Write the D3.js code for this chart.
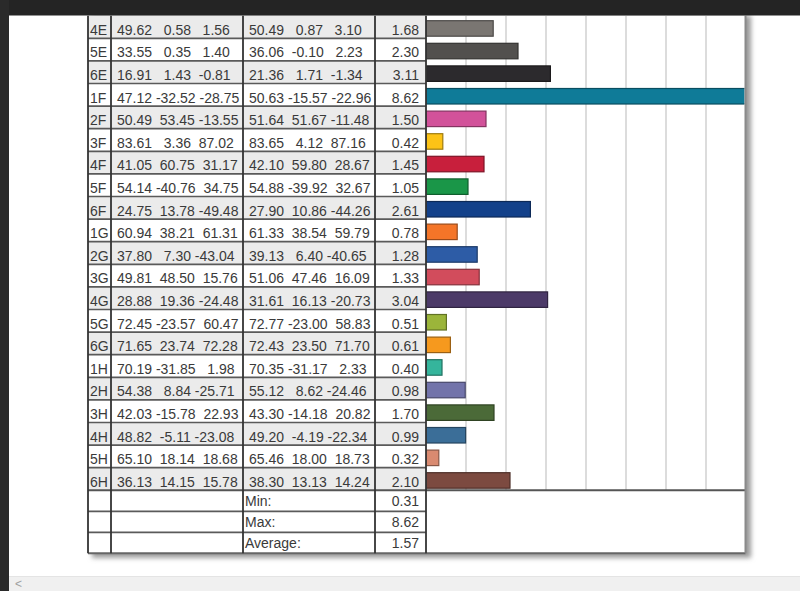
<!DOCTYPE html>
<html><head><meta charset="utf-8">
<script src="https://cdn.jsdelivr.net/npm/d3@7"></script>
<style>
html,body{margin:0;padding:0;background:#fff;}
svg{display:block;}
text{font-family:"Liberation Sans",Arial,sans-serif;font-size:14px;fill:#3a3a3a;white-space:pre;}
</style></head>
<body>
<svg id="c" width="800" height="591"></svg>
<script>
const patches = ["4E","5E","6E","1F","2F","3F","4F","5F","6F","1G","2G","3G","4G","5G","6G","1H","2H","3H","4H","5H","6H"];
const refL = [49.62,33.55,16.91,47.12,50.49,83.61,41.05,54.14,24.75,60.94,37.80,49.81,28.88,72.45,71.65,70.19,54.38,42.03,48.82,65.10,36.13];
const refA = [0.58,0.35,1.43,-32.52,53.45,3.36,60.75,-40.76,13.78,38.21,7.30,48.50,19.36,-23.57,23.74,-31.85,8.84,-15.78,-5.11,18.14,14.15];
const refB = [1.56,1.40,-0.81,-28.75,-13.55,87.02,31.17,34.75,-49.48,61.31,-43.04,15.76,-24.48,60.47,72.28,1.98,-25.71,22.93,-23.08,18.68,15.78];
const measL = [50.49,36.06,21.36,50.63,51.64,83.65,42.10,54.88,27.90,61.33,39.13,51.06,31.61,72.77,72.43,70.35,55.12,43.30,49.20,65.46,38.30];
const measA = [0.87,-0.10,1.71,-15.57,51.67,4.12,59.80,-39.92,10.86,38.54,6.40,47.46,16.13,-23.00,23.50,-31.17,8.62,-14.18,-4.19,18.00,13.13];
const measB = [3.10,2.23,-1.34,-22.96,-11.48,87.16,28.67,32.67,-44.26,59.79,-40.65,16.09,-20.73,58.83,71.70,2.33,-24.46,20.82,-22.34,18.73,14.24];
const deltaE = [1.68,2.30,3.11,8.62,1.50,0.42,1.45,1.05,2.61,0.78,1.28,1.33,3.04,0.51,0.61,0.40,0.98,1.70,0.99,0.32,2.10];
const patchColors = ["#7a7672","#52504e","#2c2a2d","#0f7b98","#d2529a","#fcc316","#c81f3c","#1a9648","#13418a","#f47528","#2d5ca6","#d24c5c","#4c3a68","#9bb53a","#f6991e","#35b59c","#7273aa","#4b6a38","#3b6e98","#d98a70","#7c4a40"];
const summaryLabels = ["Min:","Max:","Average:"];
const summaryValues = [0.31,8.62,1.57];
const gridTicks = [0,1,2,3,4,5,6,7,8];

const svg = d3.select("#c");
const X0 = 88, XL = 111, XT1 = 243, XT2 = 375, XDE = 426, XR = 745.5;
const TOP = 15.7, ROWH = 22.6;
const y = d3.scaleBand().domain(patches).range([TOP, TOP + ROWH*patches.length]).padding(0);
const dataBottom = y.range()[1];
const TBOT = 553.3;
const sumY = d3.scaleBand().domain(summaryLabels).range([dataBottom, TBOT]).padding(0);
const x = d3.scaleLinear().domain([0,8]).range([XDE, 746]);

svg.append("rect").attr("x",0).attr("y",0).attr("width",800).attr("height",591).attr("fill","#fff");

// shadow
const defs = svg.append("defs");
const f = defs.append("filter").attr("id","sh").attr("x","-5%").attr("y","-5%").attr("width","110%").attr("height","110%");
f.append("feGaussianBlur").attr("stdDeviation",2.4);
svg.append("rect").attr("x",X0+4).attr("y",TOP).attr("width",XR-X0+1.5).attr("height",TBOT-TOP+4.5)
  .attr("fill","#9a9a9a").attr("filter","url(#sh)");

// table background
svg.append("rect").attr("x",X0).attr("y",TOP).attr("width",XR-X0).attr("height",TBOT-TOP).attr("fill","#fff");

// row shading
svg.append("g").selectAll("rect").data(patches.filter((d,i)=>i%2===0)).join("rect")
  .attr("x",X0).attr("y",d=>y(d)).attr("width",XDE-X0).attr("height",y.bandwidth()).attr("fill","#ebebeb");

// gridlines
svg.append("g").selectAll("line").data(gridTicks.slice(1,-1)).join("line")
  .attr("x1",d=>x(d)).attr("x2",d=>x(d)).attr("y1",TOP).attr("y2",dataBottom)
  .attr("stroke","#dcdcdc").attr("stroke-width",2);

// bars
defs.append("clipPath").attr("id","clip").append("rect").attr("x",XDE).attr("y",0).attr("width",XR-XDE-1).attr("height",591);
svg.append("g").attr("clip-path","url(#clip)").selectAll("rect").data(patches).join("rect")
  .attr("x",x(0)).attr("y",d=>y(d)+5).attr("height",15.5)
  .attr("width",(d,i)=>x(deltaE[i])-x(0))
  .attr("fill",(d,i)=>patchColors[i])
  .attr("stroke",(d,i)=>d3.color(patchColors[i]).darker(1.3))
  .attr("stroke-width",1.2);

// row lines
const rowLines = svg.append("g").attr("stroke","#5a5a5a").attr("stroke-width",1.7);
patches.slice(1).forEach(p=>{
  rowLines.append("line").attr("x1",X0).attr("x2",XDE).attr("y1",y(p)).attr("y2",y(p));
});
summaryLabels.slice(1).forEach(s=>{
  rowLines.append("line").attr("x1",X0).attr("x2",XDE).attr("y1",sumY(s)).attr("y2",sumY(s));
});
svg.append("line").attr("x1",X0).attr("x2",XR).attr("y1",dataBottom).attr("y2",dataBottom).attr("stroke","#555").attr("stroke-width",2);
svg.append("line").attr("x1",X0).attr("x2",XR).attr("y1",TBOT).attr("y2",TBOT).attr("stroke","#666").attr("stroke-width",2);

// vertical lines
svg.append("g").selectAll("line").data([X0,XL,XT1,XT2,XDE]).join("line")
  .attr("x1",d=>d).attr("x2",d=>d).attr("y1",TOP).attr("y2",TBOT)
  .attr("stroke","#333").attr("stroke-width",1.8);
svg.append("line").attr("x1",XR).attr("x2",XR).attr("y1",TOP).attr("y2",TBOT).attr("stroke","#8a8a8a").attr("stroke-width",2);

// texts
const fmt = v=>v.toFixed(2);
const trip = (a,b,c)=>fmt(a)+" "+fmt(b).padStart(6," ")+" "+fmt(c).padStart(6," ");
const tg = svg.append("g");
patches.forEach((p,i)=>{
  const by = y(p)+19;
  tg.append("text").attr("x",90).attr("y",by).text(p);
  tg.append("text").attr("x",117).attr("y",by).attr("xml:space","preserve").text(trip(refL[i],refA[i],refB[i]));
  tg.append("text").attr("x",249).attr("y",by).attr("xml:space","preserve").text(trip(measL[i],measA[i],measB[i]));
  tg.append("text").attr("x",419).attr("y",by).attr("text-anchor","end").text(fmt(deltaE[i]));
});
summaryLabels.forEach((s,i)=>{
  const by = sumY(s)+16;
  tg.append("text").attr("x",245).attr("y",by).text(s);
  tg.append("text").attr("x",419).attr("y",by).attr("text-anchor","end").text(fmt(summaryValues[i]));
});

// window chrome
svg.append("rect").attr("x",0).attr("y",0).attr("width",800).attr("height",15.5).attr("fill","#242424");
svg.append("rect").attr("x",0).attr("y",0).attr("width",9).attr("height",591).attr("fill","#2a2a2a");
svg.append("rect").attr("x",9).attr("y",576.5).attr("width",791).attr("height",14.5).attr("fill","#f0f0f0");
svg.append("line").attr("x1",9).attr("x2",800).attr("y1",576.5).attr("y2",576.5).attr("stroke","#e4e4e4");
svg.append("text").attr("x",15).attr("y",588).style("font-size","12px").style("fill","#a0a0a0").text("<");
</script>
</body></html>
